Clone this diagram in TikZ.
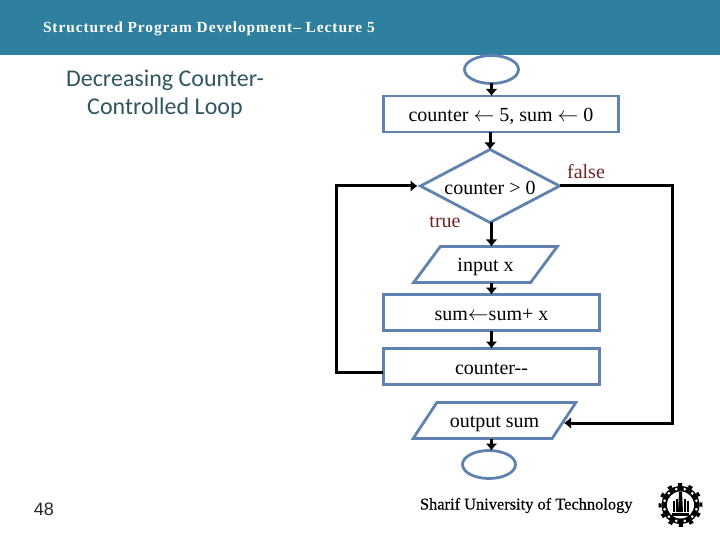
\documentclass[tikz,border=0pt]{standalone}
\usepackage{fontspec}
\usetikzlibrary{shapes.geometric,arrows.meta}
\setmainfont{Liberation Serif}
\newfontfamily\titlefont[LetterSpace=6]{Liberation Serif}
\newfontfamily\schoolfont[FakeBold=0.4]{Liberation Serif}
\newfontfamily\headfont{Carlito}
\newfontfamily\numfont{Liberation Sans}
\definecolor{bandcolor}{HTML}{2F809E}
\definecolor{edgecolor}{HTML}{5F83AE}
\definecolor{headcolor}{HTML}{2F5661}
\definecolor{labelcolor}{HTML}{702222}
\tikzset{
    x=1pt, y=-1pt,
    every node/.style={inner sep=0pt, outer sep=0pt},
    flowtext/.style={font=\fontsize{20}{22}\selectfont, text=black, text height=17pt, text depth=1.6pt},
    endpoint/.style={ellipse, draw=edgecolor, line width=2.8pt},
    procbox/.style={rectangle, draw=edgecolor, line width=2.8pt, flowtext, minimum height=36pt},
    decision/.style={diamond, draw=edgecolor, line width=2.8pt, flowtext, text height=19pt, aspect=1.89, minimum width=139pt, minimum height=73pt},
    iobox/.style={trapezium, trapezium stretches=true, draw=edgecolor, line width=2.8pt, flowtext, text height=15pt, minimum height=36pt},
    flow/.style={draw=black, line width=3pt, -{Latex[length=7pt,width=12pt]}},
    branch/.style={font=\fontsize{20}{22}\selectfont, text=labelcolor}
}
\begin{document}
\begin{tikzpicture}
    \useasboundingbox (0, 0) rectangle (720, 540);
    \fill[bandcolor] (0, 0) rectangle (720, 55);
    \node[font=\titlefont\bfseries\fontsize{15.4}{17}\selectfont, text=white, anchor=west] (title) at (43, 29) {Structured Program Development– Lecture 5};
    \node[font=\headfont\fontsize{24}{28}\selectfont, text=headcolor, align=center] (head) at (165, 94) {Decreasing Counter-\\Controlled Loop};

    \node[endpoint, minimum width=54pt, minimum height=28pt] (start) at (491.5, 69.5) {};
    \node[procbox, minimum width=235pt] (init) at (501, 114) {counter $\leftarrow$ 5, sum $\leftarrow$ 0};
    \node[decision] (test) at (490, 186) {counter > 0};
    \node[iobox, trapezium left angle=45, trapezium right angle=135, minimum width=145pt] (input) at (485.5, 264.5) {input x};
    \node[procbox, minimum width=216pt] (update) at (491.5, 312.5) {sum$\leftarrow$sum+ x};
    \node[procbox, minimum width=216pt] (count) at (491.5, 366.5) {counter{-}{-}};
    \node[iobox, trapezium left angle=42, trapezium right angle=138, minimum width=163pt] (output) at (494.5, 420.5) {output sum};
    \node[endpoint, minimum width=53pt, minimum height=28pt] (stop) at (489, 464.5) {};

    \coordinate (loopback) at (383, 372);
    \coordinate (outin) at (564, 423);

    \draw[flow] (start) -- (start |- init.north);
    \draw[flow] (init.south -| test) -- (test.north);
    \draw[flow] (test.south -| start) -- (input.north -| start);
    \draw[flow] (input.south -| start) -- (update.north -| start);
    \draw[flow] (update.south -| start) -- (count.north -| start);
    \draw[flow] (output.south -| start) -- (stop.north -| start);
    \draw[flow, shorten >=3pt] (loopback) -- (336, 372) -- (336, 186) -- (test.west);
    \draw[flow] (test.east) -- (672, 186) -- (672, 423) -- (outin);

    \node[branch] (false) at (586, 172) {false};
    \node[branch] (true) at (445, 222) {true};

    \node[font=\numfont\fontsize{18}{20}\selectfont, text=black!85] (page) at (44, 509) {48};
    \node[font=\schoolfont\fontsize{16.4}{18}\selectfont, text=black, anchor=west] (school) at (420, 505.5) {Sharif University of Technology};

    \fill[black] (680.5, 505) circle (19);
    \foreach \a in {0, 30, ..., 330} {
        \fill[black] (680.5, 505) ++(\a-7:19) -- ++(\a-7:3) -- ++(\a+90:4.5) -- ++(\a+7:-3) -- cycle;
    }
    \fill[white] (680.5, 505) circle (13.5);
    \foreach \a in {0, 30, ..., 330} {
        \fill[white] (680.5, 505) ++(\a+15:16.5) circle (1.5);
    }
    \fill[black] (672, 513) rectangle (689, 516);
    \fill[black] (679, 492) -- (682, 492) -- (683, 512) -- (678, 512) -- cycle;
    \foreach \x/\t in {-7/500.5, -4/499, 4/499, 7/500.5} {
        \fill[black] ({680.5+\x-1}, \t) rectangle ({680.5+\x+1}, 512);
    }
\end{tikzpicture}
\end{document}
